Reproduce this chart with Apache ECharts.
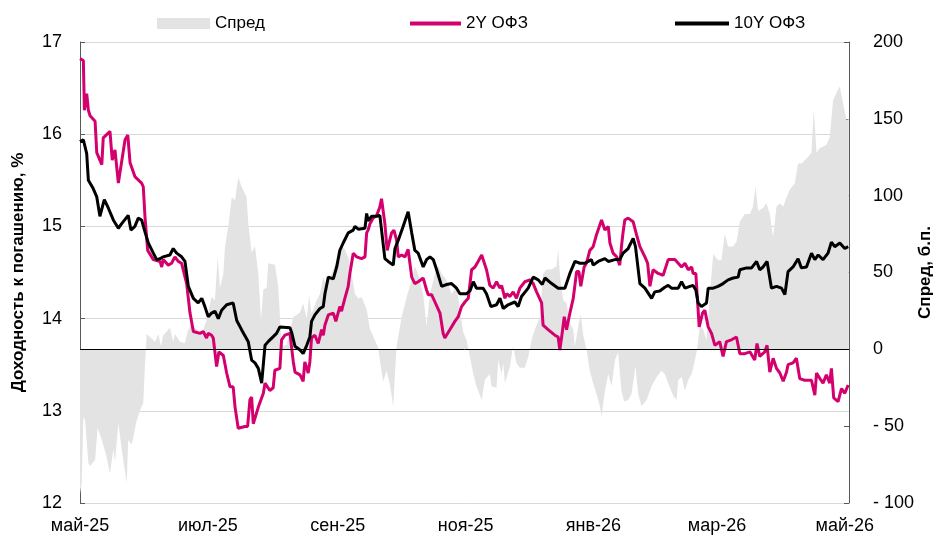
<!DOCTYPE html>
<html><head><meta charset="utf-8">
<script src="https://cdn.jsdelivr.net/npm/echarts@6/dist/echarts.min.js"></script>
<style>html,body{margin:0;padding:0;background:#fff}#c{width:934px;height:541px}</style>
</head><body><div id="c"></div><script>
// x values: days since 1 May 2025
var tickDays = [0, 61, 123, 184, 245, 304, 365];
var tickLabels = ['май-25', 'июл-25', 'сен-25', 'ноя-25', 'янв-26', 'мар-26', 'май-26'];

var day2Y = [
0,1.6,2.1,3.2,4.0,4.8,7.2,8.0,10.4,11.1,
14.3,15.4,16.7,18.3,21.5,22.8,23.9,26.2,29.4,30.2,
31.0,32.3,35.0,38.2,39.0,39.7,42.1,43.7,45.3,46.9,
48.5,50.9,52.5,54.1,57.3,58.8,60.4,61.2,62.8,63.6,
65.2,66.3,68.4,70.0,71.6,73.1,74.0,75.5,78.7,80.0,
81.1,81.9,82.7,85.1,87.5,88.3,90.6,92.2,93.0,95.4,
96.2,97.8,100.2,101.8,102.6,105.0,106.5,107.3,108.9,109.7,
110.5,112.1,113.7,115.3,116.1,116.9,118.5,120.9,122.1,124.0,
124.8,126.4,128.0,128.8,130.4,132.0,134.4,136.0,136.8,137.5,
138.4,139.9,141.6,143.1,143.9,144.7,145.5,146.6,148.7,149.8,
151.1,151.9,153.5,155.1,156.6,158.3,159.8,161.4,163.8,165.4,
166.2,167.8,169.4,171.8,173.3,174.1,176.5,178.9,180.5,182.1,
183.7,185.3,186.9,188.5,190.0,191.7,192.4,194.0,195.6,197.2,
198.8,200.4,201.2,202.8,203.6,205.2,206.7,208.3,209.9,212.3,
214.7,216.3,217.9,220.3,221.0,223.4,226.6,228.2,229.0,230.1,
231.1,232.2,233.8,235.4,237.0,238.1,239.0,240.6,241.7,243.3,
244.9,246.5,248.9,250.5,252.1,252.9,254.4,256.1,257.6,258.4,
259.2,260.0,261.6,264.0,265.6,267.2,269.6,270.9,272.0,273.5,
275.9,278.3,279.1,280.7,283.9,285.5,287.1,288.7,290.3,291.9,
292.6,293.9,294.5,295.5,297.1,298.2,299.8,301.4,303.0,305.3,
306.9,308.5,310.9,313.3,314.9,317.3,319.7,322.0,323.1,324.4,
326.8,327.9,329.2,330.8,332.4,334.0,335.6,337.2,337.9,340.3,
341.9,343.5,345.9,349.1,350.7,351.5,353.1,354.6,356.2,357.8,
358.6,359.7,361.8,363.4,365.0,366.6
];
var val2Y = [
16.82,16.80,16.26,16.44,16.26,16.20,16.14,15.80,15.67,15.96,
16.03,15.72,15.83,15.47,15.94,15.99,15.69,15.54,15.47,15.43,
15.11,14.74,14.64,14.62,14.56,14.64,14.58,14.60,14.67,14.62,
14.60,14.38,14.06,13.86,13.84,13.86,13.79,13.84,13.82,13.79,
13.48,13.64,13.60,13.41,13.26,13.26,13.04,12.81,12.83,12.83,
13.12,13.15,12.86,13.04,13.19,13.30,13.22,13.25,13.44,13.46,
13.77,13.82,13.84,13.53,13.42,13.39,13.32,13.53,13.41,13.53,
13.79,13.82,13.73,13.88,13.82,13.93,14.04,14.06,13.97,14.13,
14.08,14.22,14.35,14.49,14.71,14.67,14.65,14.67,14.93,14.96,
15.03,15.09,15.12,15.21,15.30,15.30,15.03,14.74,14.93,14.96,
14.85,14.67,14.69,14.67,14.75,14.45,14.38,14.40,14.44,14.31,
14.26,14.26,14.18,14.06,13.84,13.79,13.88,13.97,14.02,14.13,
14.18,14.22,14.53,14.56,14.62,14.69,14.67,14.53,14.36,14.33,
14.40,14.33,14.36,14.22,14.27,14.24,14.29,14.22,14.33,14.40,
14.42,14.38,14.29,14.17,13.93,13.88,13.82,13.80,13.66,13.84,
14.02,13.88,14.06,14.22,14.51,14.51,14.35,14.56,14.60,14.74,
14.78,14.91,15.07,14.96,15.00,14.82,14.71,14.67,14.58,14.78,
14.94,15.07,15.09,15.05,14.91,14.78,14.67,14.60,14.35,14.53,
14.49,14.47,14.45,14.64,14.64,14.60,14.56,14.60,14.53,14.56,
14.49,14.49,14.27,13.91,14.06,14.09,13.91,13.84,13.71,13.75,
13.59,13.75,13.77,13.80,13.62,13.62,13.64,13.55,13.73,13.59,
13.64,13.71,13.42,13.57,13.46,13.41,13.32,13.42,13.50,13.52,
13.57,13.35,13.33,13.33,13.17,13.41,13.35,13.30,13.39,13.30,
13.46,13.14,13.10,13.24,13.19,13.28
];

var day10Y = [
0,1.6,3.2,4.0,6.3,8.0,9.5,10.4,11.6,13.5,
15.9,18.3,19.9,23.0,24.3,26.2,27.8,29.4,31.0,32.6,
35.0,36.6,38.2,39.7,42.9,44.5,46.1,48.5,50.1,51.7,
54.1,56.4,58.1,59.6,61.2,62.8,64.4,66.0,67.6,70.0,
73.1,74.8,77.1,80.3,81.9,83.5,85.1,86.7,88.3,89.8,
90.6,93.8,95.4,100.2,101.0,102.6,105.0,106.5,108.2,109.7,
110.5,112.1,114.5,116.1,116.9,118.5,120.9,122.5,124.0,125.6,
128.0,130.4,131.2,132.8,136.0,136.8,137.5,139.2,141.6,143.1,
145.5,147.1,149.5,150.3,151.9,154.2,156.6,158.3,159.8,161.4,
163.8,165.4,167.0,168.6,170.2,172.6,175.0,177.3,179.7,181.3,
184.5,186.1,187.7,189.2,192.4,194.0,196.1,198.8,200.4,202.0,
204.3,207.5,209.1,210.7,213.9,216.3,218.7,220.6,221.9,225.1,
228.2,231.4,233.8,236.2,238.6,240.9,244.1,244.9,247.3,250.5,
252.1,255.3,257.6,259.2,261.6,264.0,265.1,267.2,269.6,272.8,
274.3,276.7,279.1,280.7,282.3,285.5,287.1,288.7,291.1,292.6,
293.9,295.0,296.6,299.0,299.8,302.2,304.5,306.9,309.3,311.7,
314.1,314.9,318.1,320.5,322.9,324.4,326.0,327.9,330.0,332.4,
334.8,336.4,337.9,340.3,342.7,344.3,346.7,349.1,350.7,352.3,
354.6,357.0,358.6,360.2,362.6,365.0,366.6
];
var val10Y = [
15.92,15.94,15.79,15.50,15.41,15.32,15.11,15.10,15.29,15.20,
15.07,14.98,15.03,15.12,14.96,15.00,15.09,15.07,14.94,14.82,
14.71,14.64,14.65,14.67,14.69,14.76,14.71,14.67,14.62,14.35,
14.22,14.17,14.22,14.13,14.02,14.06,14.08,14.00,14.09,14.15,
14.17,13.98,13.88,13.75,13.55,13.52,13.46,13.30,13.71,13.75,
13.76,13.84,13.91,13.90,13.85,13.70,13.66,13.62,13.71,13.80,
13.97,14.04,14.11,14.13,14.27,14.45,14.43,14.56,14.74,14.82,
14.93,14.96,15.00,14.97,14.98,15.14,15.06,15.11,15.11,15.12,
14.65,14.62,14.58,14.76,14.85,15.00,15.16,14.93,14.74,14.71,
14.56,14.64,14.67,14.64,14.53,14.35,14.37,14.38,14.33,14.27,
14.27,14.30,14.40,14.33,14.33,14.27,14.13,14.15,14.22,14.11,
14.15,14.18,14.13,14.24,14.33,14.45,14.42,14.37,14.44,14.38,
14.33,14.33,14.49,14.62,14.60,14.60,14.64,14.58,14.62,14.65,
14.62,14.64,14.64,14.71,14.76,14.87,14.78,14.38,14.33,14.22,
14.29,14.30,14.34,14.36,14.33,14.33,14.40,14.33,14.35,14.36,
14.31,14.17,14.13,14.17,14.33,14.33,14.35,14.38,14.42,14.44,
14.45,14.53,14.55,14.55,14.62,14.53,14.56,14.62,14.33,14.35,
14.33,14.26,14.51,14.56,14.65,14.55,14.56,14.71,14.64,14.69,
14.64,14.71,14.83,14.78,14.82,14.76,14.78
];

var daySpread = [
0,0.8,1.6,2.4,4.0,4.8,7.2,8.4,10.4,12.7,
14.3,15.9,16.7,18.3,19.9,22.3,23.0,24.7,27.1,29.4,
30.2,31.0,31.8,33.4,35.8,37.4,38.6,39.7,42.9,44.5,
45.3,47.7,50.1,51.4,53.3,54.9,58.1,60.4,62.8,64.4,
65.7,66.8,68.4,69.2,70.8,72.4,74.0,75.5,77.1,79.5,
80.3,81.9,83.5,85.1,86.4,87.5,89.1,89.8,90.6,93.0,
94.6,96.2,98.6,101.8,105.0,106.5,108.2,109.4,110.5,112.9,
114.5,116.1,117.7,120.1,122.5,124.8,126.4,128.0,129.6,131.2,
132.8,134.4,136.8,138.4,140.7,142.3,143.1,144.7,146.3,147.9,
149.5,150.3,151.1,153.5,155.9,158.3,159.8,161.4,163.8,165.4,
167.0,169.4,171.0,172.6,175.0,177.3,179.7,181.3,182.9,184.5,
185.3,186.1,187.7,189.2,191.7,193.2,195.6,196.4,198.8,199.6,
201.2,202.0,202.8,205.2,206.7,208.3,209.9,212.3,213.9,215.5,
217.1,219.5,221.0,222.6,225.0,227.4,228.2,229.0,230.6,232.2,
233.8,235.4,236.2,237.8,239.0,240.2,241.7,243.3,244.9,246.5,
248.1,248.9,250.5,252.1,253.7,255.3,256.8,258.4,259.7,261.6,
263.2,265.1,266.4,268.0,270.4,272.8,275.2,277.5,279.1,280.7,
283.1,284.7,285.5,287.1,288.7,290.3,291.9,293.5,294.5,295.8,
297.4,299.0,300.6,302.2,304.5,306.1,307.7,309.3,311.7,313.3,
314.9,317.3,319.7,321.2,322.4,323.6,326.0,327.6,329.2,330.8,
332.4,334.0,335.6,337.2,338.8,341.1,342.7,344.3,346.7,349.1,
350.2,351.5,353.1,356.2,357.8,359.4,361.0,362.6,364.2,365.8,
366.9
];
var valSpread = [
-94,-87,-44,-46,-74,-76,-72,-51,-59,-70,
-81,-65,-73,-48,-65,-87,-59,-62,-46,-37,
-35,-10,10,8,5,10,2,9,14,5,
10,5,4,12,17,14,10,19,34,32,
60,40,49,67,80,99,97,112,106,99,
82,63,67,49,19,39,40,56,56,55,
41,2,3,21,24,30,20,35,23,32,
36,47,41,49,58,67,65,60,49,36,
33,34,26,13,6,1,-7,-21,-14,-23,
-37,-16,2,21,34,45,54,49,36,15,
36,49,54,49,45,36,41,26,11,6,
5,-5,-16,-24,-33,-20,-16,-24,-25,-7,
-16,-9,-22,-11,2,-9,-12,-12,-5,6,
13,21,49,52,52,54,65,49,32,30,
17,13,2,15,23,9,0,-14,-22,-29,
-37,-44,-27,-16,-24,-7,-2,-27,-34,-33,
-29,-11,-29,-37,-33,-24,-18,-14,-16,-22,
-30,-33,-20,-18,-27,-20,-16,-7,0,15,
13,6,36,62,58,58,75,67,67,70,
83,88,88,93,106,90,92,95,88,73,
93,95,93,99,104,108,121,121,124,128,
156,128,131,133,138,162,167,171,160,149,
150
];

function pairs(xs, ys) { return xs.map(function (x, i) { return [x, ys[i]]; }); }

var FONT = 'Liberation Sans, Arial, sans-serif';
var chart = echarts.init(document.getElementById('c'), null, { renderer: 'canvas' });
var legendText = { fontSize: 17, color: '#000', fontFamily: FONT };
chart.setOption({
  animation: false,
  backgroundColor: '#fff',
  textStyle: { fontFamily: FONT },
  grid: { left: 80, right: 85, top: 42, bottom: 38, containLabel: false, outerBoundsMode: 'none' },
  legend: [
    { data: ['Спред'], left: 152, top: 10, icon: 'rect', itemWidth: 53, itemHeight: 11, selectedMode: false, textStyle: legendText },
    { data: ['2Y ОФЗ'], left: 405, top: 10, icon: 'rect', itemWidth: 51, itemHeight: 4, selectedMode: false, textStyle: legendText },
    { data: ['10Y ОФЗ'], left: 670, top: 10, icon: 'rect', itemWidth: 54, itemHeight: 4, selectedMode: false, textStyle: legendText }
  ],
  xAxis: {
    type: 'value', min: 0, max: 367,
    axisLine: { show: false }, axisTick: { show: false }, splitLine: { show: false },
    axisLabel: {
      customValues: tickDays,
      formatter: function (v) { var i = tickDays.indexOf(v); return i >= 0 ? tickLabels[i] : ''; },
      fontSize: 18, color: '#000', margin: 14, fontFamily: FONT
    }
  },
  yAxis: [
    {
      type: 'value', min: 12, max: 17, interval: 1, position: 'left',
      axisLine: { show: true, lineStyle: { color: '#595959', width: 1 } },
      axisTick: { show: true, inside: true, length: 5, lineStyle: { color: '#595959' } },
      axisLabel: { fontSize: 18, color: '#000', margin: 18, fontFamily: FONT },
      splitLine: { show: true, lineStyle: { color: '#d9d9d9', width: 1 } },
      name: 'Доходность к погашению, %', nameLocation: 'middle', nameGap: 53, nameMoveOverlap: false,
      nameTextStyle: { fontSize: 17, fontWeight: 'bold', color: '#000', fontFamily: FONT }
    },
    {
      type: 'value', min: -100, max: 200, interval: 50, position: 'right',
      axisLine: { show: true, lineStyle: { color: '#595959', width: 1 } },
      axisTick: { show: true, inside: true, length: 5, lineStyle: { color: '#595959' } },
      axisLabel: {
        fontSize: 18, color: '#000', margin: 24, fontFamily: FONT,
        formatter: function (v) { return v < 0 ? '- ' + Math.abs(v) : String(v); }
      },
      splitLine: { show: false },
      name: 'Спред, б.п.', nameLocation: 'middle', nameGap: 68, nameMoveOverlap: false,
      nameTextStyle: { fontSize: 17, fontWeight: 'bold', color: '#000', fontFamily: FONT }
    }
  ],
  series: [
    {
      name: 'Спред', type: 'line', yAxisIndex: 1, symbol: 'none',
      data: pairs(daySpread, valSpread),
      color: '#e3e3e3',
      itemStyle: { color: '#e3e3e3' },
      lineStyle: { width: 0, color: '#e3e3e3' },
      areaStyle: { color: '#e3e3e3', opacity: 1 },
      markLine: {
        silent: true, symbol: ['none', 'none'], label: { show: false },
        lineStyle: { color: '#000', width: 1, type: 'solid' },
        data: [{ yAxis: 0 }]
      }
    },
    {
      name: '2Y ОФЗ', type: 'line', yAxisIndex: 0, symbol: 'none',
      data: pairs(day2Y, val2Y),
      color: '#d4006e', itemStyle: { color: '#d4006e' },
      lineStyle: { width: 3, color: '#d4006e' }
    },
    {
      name: '10Y ОФЗ', type: 'line', yAxisIndex: 0, symbol: 'none',
      data: pairs(day10Y, val10Y),
      color: '#000', itemStyle: { color: '#000' },
      lineStyle: { width: 3, color: '#000' }
    }
  ]
});
</script></body></html>
